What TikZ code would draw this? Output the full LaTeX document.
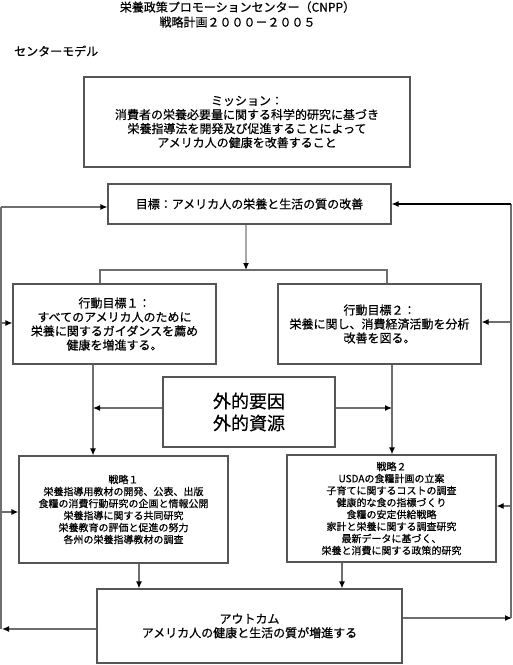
\documentclass[tikz,border=0pt]{standalone}
\usepackage{fontspec}
\setmainfont{Noto Sans CJK JP}[FakeBold=0.6]
\usetikzlibrary{arrows.meta}
\definecolor{boxc}{HTML}{555555}
\definecolor{linec}{HTML}{6E6E6E}
\definecolor{lightc}{HTML}{A8A8A8}
\begin{document}
\begin{tikzpicture}[x=1pt,y=-1pt,
  box/.style={draw=boxc, line width=1.2pt, align=center, inner sep=0pt, font=\fontsize{12}{14}\selectfont},
  sbox/.style={box, font=\fontsize{10}{12}\selectfont},
  bigbox/.style={box, font=\fontsize{18}{22}\selectfont},
  conn/.style={draw=linec, line width=1.2pt},
  arr/.style={conn, -{Latex[length=7pt,width=6pt,color=black]}},
  plain/.style={inner sep=0pt, align=center, font=\fontsize{12}{15}\selectfont}]
\useasboundingbox (0,0) rectangle (513,665);

\node[plain] (title) at (237.5,14.5) {栄養政策プロモーションセンター（CNPP）\\戦略計画２０００－２００５};
\node[plain, anchor=west] (model) at (14,51) {センターモデル};

\node[box, minimum width=326pt, minimum height=90pt] (mis) at (247,122)
  {ミッション：\\消費者の栄養必要量に関する科学的研究に基づき\\栄養指導法を開発及び促進することによって\\アメリカ人の健康を改善すること};
\node[box, minimum width=283pt, minimum height=40pt] (goal) at (249.5,204)
  {目標：アメリカ人の栄養と生活の質の改善};
\node[box, minimum width=203pt, minimum height=80pt] (a1) at (114.5,324)
  {行動目標１：\\すべてのアメリカ人のために\\栄養に関するガイダンスを薦め\\健康を増進する。};
\node[box, minimum width=203pt, minimum height=80pt] (a2) at (379.5,324)
  {行動目標２：\\栄養に関し、消費経済活動を分析\\改善を図る。};
\node[bigbox, minimum width=172pt, minimum height=70pt] (ext) at (249,412)
  {外的要因\\外的資源};
\node[sbox, minimum width=209pt, minimum height=107pt] (s1) at (123.5,509.5)
  {戦略１\\栄養指導用教材の開発、公表、出版\\食糧の消費行動研究の企画と情報公開\\栄養指導に関する共同研究\\栄養教育の評価と促進の努力\\各州の栄養指導教材の調査};
\node[sbox, minimum width=209pt, minimum height=107pt] (s2) at (391.5,508.5)
  {戦略２\\USDAの食糧計画の立案\\子育てに関するコストの調査\\健康的な食の指標づくり\\食糧の安定供給戦略\\家計と栄養に関する調査研究\\最新データに基づく、\\栄養と消費に関する政策的研究};
\node[box, minimum width=305pt, minimum height=74pt] (out) at (249.5,626)
  {アウトカム\\アメリカ人の健康と生活の質が増進する};

% helper coordinates
\coordinate (brc) at (246,270);
\coordinate (brl) at (100,270);
\coordinate (brr) at (387,270);
\coordinate (c1) at (93,0);
\coordinate (c2) at (392,0);
\coordinate (d1) at (139,0);
\coordinate (d2) at (342,0);
\coordinate (lb) at (2,629);
\coordinate (lt) at (1,207);
\coordinate (rb) at (512,618);
\coordinate (rt) at (511,204);
\coordinate (ra1) at (511,322);
\coordinate (ra2) at (511,506);
\coordinate (la1) at (1,323);
\coordinate (la2) at (1,512);

% goal to actions
\draw[conn, draw=lightc, -{Latex[length=7pt,width=6pt,color=black]}] (goal.south -| brc) -- (brc);
\draw[conn] (a1.north -| brl) -- (brl) -- (brr) -- (a2.north -| brr);

% actions to strategies
\draw[arr] (a1.south -| c1) -- (s1.north -| c1);
\draw[arr] (a2.south -| c2) -- (s2.north -| c2);
\draw[arr] ([yshift=4pt]ext.west) -- ([yshift=4pt]ext.west -| c1);
\draw[arr] ([yshift=4pt]ext.east) -- ([yshift=4pt]ext.east -| c2);

% strategies to outcome
\draw[arr] (s1.south -| d1) -- (out.north -| d1);
\draw[arr] (s2.south -| d2) -- (out.north -| d2);

% feedback left
\draw[arr] (out.west |- lb) -- (lb);
\draw[conn] (lb -| lt) -- (lt);
\draw[arr] (lt) -- (lt -| goal.west);
\draw[arr] (la1) -- (la1 -| a1.west);
\draw[arr] (la2) -- (la2 -| s1.west);

% feedback right
\draw[arr] (out.east |- rb) -- (rb);
\draw[conn] (rb -| rt) -- (rt);
\draw[arr, draw=black] (rt) -- (rt -| goal.east);
\draw[arr] (ra1) -- (ra1 -| a2.east);
\draw[arr] (ra2) -- (ra2 -| s2.east);
\end{tikzpicture}
\end{document}
